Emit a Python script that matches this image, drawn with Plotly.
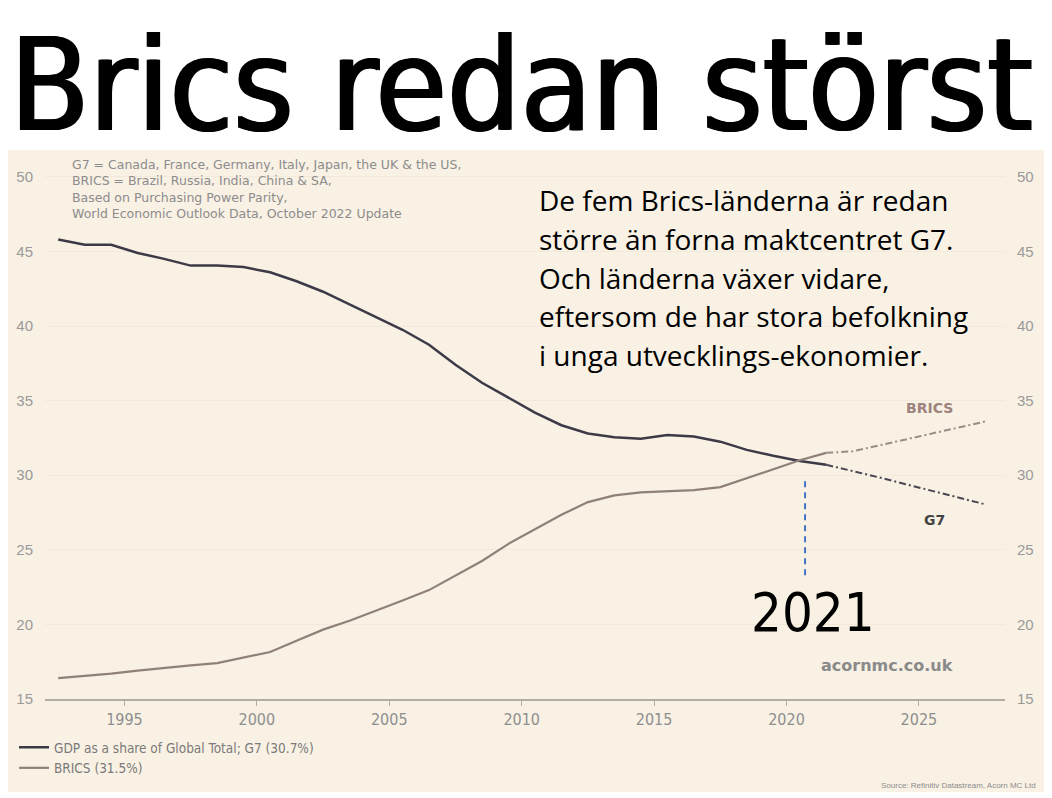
import plotly.graph_objects as go

# andel av global BNP (PPP), %
years = list(range(1992, 2028))
g7 = [45.8, 45.45, 45.45, 44.9, 44.5, 44.05, 44.05, 43.95, 43.6, 43.0,
      42.3, 41.45, 40.55, 39.75, 38.75, 37.4, 36.2, 35.2, 34.2, 33.35,
      32.8, 32.55, 32.45, 32.7, 32.6, 32.25, 31.7, 31.3, 30.95, 30.7,
      30.3, 29.85, 29.4, 28.95, 28.5, 28.05]
brics = [16.4, 16.55, 16.7, 16.9, 17.1, 17.25, 17.4, 17.75, 18.15, 18.9,
         19.65, 20.25, 20.9, 21.6, 22.3, 23.25, 24.25, 25.4, 26.4, 27.35,
         28.2, 28.65, 28.85, 28.95, 29.0, 29.2, 29.8, 30.4, 31.0, 31.5,
         31.6, 32.0, 32.4, 32.8, 33.2, 33.6]
last_actual = 2021          # prognos (streckad) efter detta år
cross_year = 2020.7         # blå markering där linjerna korsas
cross_label = "2021"

xticks = [1995, 2000, 2005, 2010, 2015, 2020, 2025]
yticks = [15, 20, 25, 30, 35, 40, 45, 50]

title = "Brics redan störst"
body_lines = ["De fem Brics-länderna är redan",
              "större än forna maktcentret G7.",
              "Och länderna växer vidare,",
              "eftersom de har stora befolkning",
              "i unga utvecklings-ekonomier."]
note_lines = ["G7 = Canada, France, Germany, Italy, Japan, the UK & the US,",
              "BRICS = Brazil, Russia, India, China & SA,",
              "Based on Purchasing Power Parity,",
              "World Economic Outlook Data, October 2022 Update"]
g7_name = "GDP as a share of Global Total; G7 (30.7%)"
brics_name = "BRICS (31.5%)"
source = "Source: Refinitiv Datastream, Acorn MC Ltd"

BG = "#f9f1e4"
G7_COL = "#3d3a48"
BR_COL = "#8f817a"
GREY = "#8c8c8c"
COND = "DejaVu Sans Condensed"

# sidan har 8px body-marginal -> allt flyttas 8px upp/vänster
OFF = 8
W, H = 1052 - OFF, 798 - OFF
L, T, R, B = 45, 150, 1005, 699   # plotytan i skärmpixlar

def px_x(p):
    return (p - L) / (R - L)

def px_y(p):
    return (B - p) / (B - T)

# årsdata ritas mitt i året
xs = [y + 0.5 for y in years]
cut = years.index(last_actual) + 1

fig = go.Figure()
fig.add_trace(go.Scatter(x=xs[:cut], y=g7[:cut], mode="lines", name=g7_name,
                         line=dict(color=G7_COL, width=2.5)))
fig.add_trace(go.Scatter(x=xs[:cut], y=brics[:cut], mode="lines", name=brics_name,
                         line=dict(color=BR_COL, width=2.2)))
fig.add_trace(go.Scatter(x=xs[cut - 1:], y=g7[cut - 1:], mode="lines", showlegend=False,
                         line=dict(color="#4a4652", width=2, dash="7px,3px,2px,3px")))
fig.add_trace(go.Scatter(x=xs[cut - 1:], y=brics[cut - 1:], mode="lines", showlegend=False,
                         line=dict(color="#9a8d86", width=2, dash="7px,3px,2px,3px")))

fig.add_shape(type="rect", xref="paper", yref="paper", layer="below",
              x0=px_x(4), x1=px_x(1046), y0=px_y(792), y1=px_y(150),
              fillcolor=BG, line_width=0)

# blå streckad markering
fig.add_shape(type="line", xref="x", yref="y", x0=cross_year, x1=cross_year,
              y0=23.3, y1=29.9, line=dict(color="#4472c4", width=2, dash="6px,5px"))

ann = []
ann.append(dict(text=title, x=px_x(OFF), y=px_y(OFF), xref="paper", yref="paper",
                xanchor="left", yanchor="top", showarrow=False,
                font=dict(family=COND, size=129, color="black",
                          shadow="1.5px 0 0 #000, -1.5px 0 0 #000")))
for i, line in enumerate(body_lines):
    ann.append(dict(text=line, x=px_x(537), y=px_y(200 + i * 38.8), xref="paper", yref="paper",
                    xanchor="left", yanchor="middle", showarrow=False,
                    font=dict(family="Open Sans", size=28, color="black")))
ann.append(dict(text="<br>".join(note_lines), x=px_x(70), y=px_y(155), xref="paper", yref="paper",
                xanchor="left", yanchor="top", align="left", showarrow=False,
                font=dict(family="DejaVu Sans", size=12.5, color=GREY)))
ann.append(dict(text="<b>BRICS</b>", x=2025.4, y=34.5, showarrow=False,
                font=dict(family="DejaVu Sans", size=14, color="#9c837d")))
ann.append(dict(text="<b>G7</b>", x=2025.6, y=27.0, showarrow=False,
                font=dict(family="DejaVu Sans", size=14, color="#444444")))
ann.append(dict(text=cross_label, x=2021.0, y=20.8, showarrow=False,
                font=dict(family=COND, size=54, color="black")))
ann.append(dict(text="<b>acornmc.co.uk</b>", x=px_x(955), y=px_y(665), xref="paper", yref="paper",
                xanchor="right", yanchor="middle", showarrow=False,
                font=dict(family="DejaVu Sans", size=16, color="#8a8a8a")))
ann.append(dict(text=source, x=px_x(1038), y=px_y(785), xref="paper", yref="paper",
                xanchor="right", yanchor="middle", showarrow=False,
                font=dict(family="Liberation Sans", size=8, color=GREY)))

tickfont = dict(family="Liberation Sans", size=15, color="#9a9a9a")
fig.update_layout(
    width=W, height=H,
    margin=dict(l=L - OFF, r=W - (R - OFF), t=T - OFF, b=H - (B - OFF), autoexpand=False),
    paper_bgcolor="white", plot_bgcolor=BG,
    annotations=ann,
    showlegend=True,
    legend=dict(x=px_x(14), y=px_y(732), xanchor="left", yanchor="top",
                bgcolor="rgba(0,0,0,0)", tracegroupgap=0, itemwidth=30,
                font=dict(family=COND, size=13.5, color="#7a7a7a")),
    xaxis=dict(range=[1992, 2028.25], tickvals=xticks, showgrid=False, zeroline=False,
               showline=True, linecolor="#b3aca2", linewidth=1.5,
               ticks="outside", ticklen=5, tickcolor="#b3aca2",
               tickfont=dict(family=COND, size=16, color="#8e8e8e")),
    yaxis=dict(range=[15, 51.8], tickvals=yticks, showgrid=True, gridcolor="#f3e9da",
               zeroline=False, ticks="outside", ticklen=8, tickcolor="rgba(0,0,0,0)",
               tickfont=tickfont),
    yaxis2=dict(range=[15, 51.8], tickvals=yticks, overlaying="y", side="right",
                showgrid=False, zeroline=False, ticks="outside", ticklen=8,
                tickcolor="rgba(0,0,0,0)", tickfont=tickfont, showticklabels=True),
)
# osynlig trace så att högeraxeln ritas
fig.add_trace(go.Scatter(x=[xs[0]], y=[g7[0]], yaxis="y2", mode="lines",
                         showlegend=False, hoverinfo="skip", line=dict(width=0)))

fig.write_html("out.html")
